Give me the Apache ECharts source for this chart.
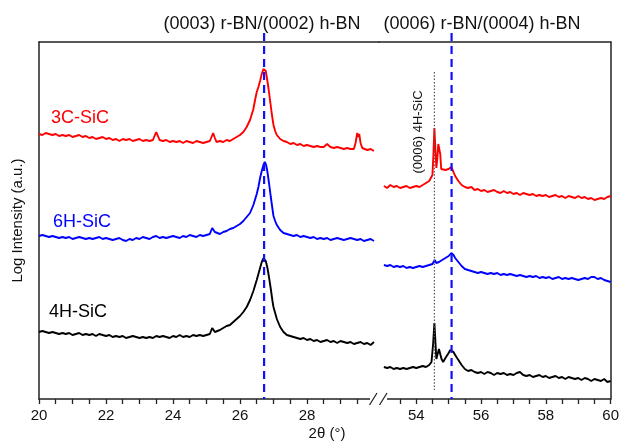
<!DOCTYPE html>
<html>
<head>
<meta charset="utf-8">
<script src="https://cdn.jsdelivr.net/npm/echarts@6/dist/echarts.min.js"></script>
<style>html,body{margin:0;padding:0;background:#fff}#c{width:622px;height:443px}</style>
</head>
<body>
<div id="c"></div>
<script>
// ---- data (2theta in degrees, log intensity in arbitrary units) ----
var leftTickValues = [20,20.5,21,21.5,22,22.5,23,23.5,24,24.5,25,25.5,26,26.5,27,27.5,28,28.5,29,29.5];
var leftLabelValues = [20,22,24,26,28];
var rightTickValues = [53.5,54,54.5,55,55.5,56,56.5,57,57.5,58,58.5,59,59.5,60];
var rightLabelValues = [54,56,58,60];
var seriesNames = ['3C-SiC','6H-SiC','4H-SiC'];
var hBN0002 = 26.72;   // (0003) r-BN/(0002) h-BN
var hBN0004 = 55.09;   // (0006) r-BN/(0004) h-BN
var sic0006 = 54.56;   // (0006) 4H-SiC

var red3C_left = [[20.0,265],[20.1,264],[20.2,266],[20.3,265],[20.4,264],[20.5,265],[20.6,263],[20.7,264],[20.8,263],[20.9,264],[21.0,262],[21.1,263],[21.2,264],[21.3,262],[21.4,263],[21.5,261],[21.6,262],[21.7,260],[21.8,261],[21.9,262],[22.0,260],[22.1,261],[22.2,259],[22.3,260],[22.4,258],[22.5,260],[22.6,259],[22.7,260],[22.8,258],[22.9,259],[23.0,260],[23.1,258],[23.2,259],[23.3,258],[23.4,259],[23.45,263],[23.5,267],[23.55,263],[23.6,259],[23.7,258],[23.8,259],[23.9,257],[24.0,258],[24.1,257],[24.2,258],[24.3,256],[24.4,258],[24.5,257],[24.6,256],[24.7,258],[24.8,257],[24.9,256],[25.0,257],[25.1,258],[25.15,262],[25.2,266],[25.25,261],[25.3,257],[25.4,258],[25.5,257],[25.6,259],[25.7,258],[25.8,260],[25.9,262],[26.0,264],[26.1,267],[26.2,272],[26.3,279],[26.4,290],[26.45,299],[26.5,307],[26.55,312],[26.6,318],[26.65,325],[26.7,330],[26.73,332],[26.77,328],[26.8,322],[26.85,311],[26.9,298],[26.95,285],[27.0,274],[27.05,268],[27.1,264],[27.2,260],[27.3,258],[27.4,257],[27.5,255],[27.6,256],[27.7,254],[27.8,255],[27.9,253],[28.0,254],[28.1,253],[28.2,252],[28.3,253],[28.4,252],[28.5,252],[28.6,255],[28.7,252],[28.8,251],[28.9,252],[29.0,251],[29.1,250],[29.2,251],[29.3,250],[29.4,250],[29.45,256],[29.5,266],[29.53,262],[29.56,265],[29.6,256],[29.65,251],[29.7,250],[29.8,249],[29.9,250],[30.0,248]];
var blue6H_left = [[20.0,163],[20.1,164],[20.2,163],[20.3,162],[20.4,163],[20.5,162],[20.6,161],[20.7,162],[20.8,161],[20.9,162],[21.0,160],[21.1,161],[21.2,162],[21.3,161],[21.4,160],[21.5,161],[21.6,160],[21.7,161],[21.8,162],[21.9,160],[22.0,161],[22.1,160],[22.2,159],[22.3,160],[22.4,161],[22.5,159],[22.6,158],[22.7,160],[22.8,159],[22.9,161],[23.0,160],[23.1,162],[23.2,161],[23.3,160],[23.4,162],[23.5,163],[23.6,161],[23.7,162],[23.8,161],[23.9,162],[24.0,163],[24.1,162],[24.2,161],[24.3,163],[24.4,162],[24.5,164],[24.6,163],[24.7,162],[24.8,164],[24.9,163],[25.0,164],[25.1,165],[25.17,171],[25.25,167],[25.3,166],[25.4,165],[25.5,167],[25.6,168],[25.7,170],[25.8,171],[25.9,173],[26.0,175],[26.1,178],[26.2,182],[26.3,186],[26.4,194],[26.5,205],[26.55,212],[26.6,221],[26.65,228],[26.7,234],[26.74,237],[26.78,234],[26.82,227],[26.87,215],[26.92,202],[26.97,190],[27.0,183],[27.05,178],[27.1,174],[27.2,169],[27.3,166],[27.4,165],[27.5,164],[27.6,163],[27.7,164],[27.8,162],[27.9,163],[28.0,162],[28.1,161],[28.2,162],[28.3,160],[28.4,161],[28.5,160],[28.6,161],[28.7,159],[28.8,160],[28.9,161],[29.0,160],[29.1,159],[29.2,160],[29.3,161],[29.4,160],[29.5,159],[29.6,160],[29.7,158],[29.8,159],[29.9,160],[30.0,158]];
var black4H_left = [[20.0,67],[20.1,68],[20.2,67],[20.3,66],[20.4,67],[20.5,66],[20.6,65],[20.7,66],[20.8,65],[20.9,66],[21.0,64],[21.1,65],[21.2,66],[21.3,64],[21.4,65],[21.5,64],[21.6,65],[21.7,63],[21.8,65],[21.9,64],[22.0,63],[22.1,64],[22.2,62],[22.3,63],[22.4,62],[22.5,63],[22.6,61],[22.7,62],[22.8,63],[22.9,62],[23.0,61],[23.1,62],[23.2,61],[23.3,62],[23.4,61],[23.5,63],[23.6,62],[23.7,63],[23.8,62],[23.9,61],[24.0,63],[24.1,62],[24.2,64],[24.3,62],[24.4,63],[24.5,62],[24.6,64],[24.7,63],[24.8,64],[24.9,63],[25.0,64],[25.1,65],[25.17,71],[25.25,67],[25.3,68],[25.4,69],[25.5,71],[25.6,73],[25.7,74],[25.8,77],[25.9,80],[26.0,83],[26.1,87],[26.2,92],[26.3,99],[26.4,108],[26.5,119],[26.55,125],[26.6,131],[26.65,137],[26.7,141],[26.73,142],[26.77,138],[26.82,131],[26.87,121],[26.92,110],[26.97,98],[27.0,92],[27.05,86],[27.1,80],[27.2,72],[27.3,67],[27.4,64],[27.5,63],[27.6,62],[27.7,61],[27.8,60],[27.9,61],[28.0,59],[28.1,60],[28.2,58],[28.3,59],[28.4,57],[28.5,58],[28.6,59],[28.7,57],[28.8,58],[28.9,56],[29.0,58],[29.1,57],[29.2,56],[29.3,57],[29.4,55],[29.5,56],[29.6,57],[29.7,55],[29.8,56],[29.9,54],[30.0,57]];

var red3C_right = [[53.0,213],[53.1,211],[53.2,214],[53.3,212],[53.4,213],[53.5,211],[53.6,212],[53.7,213],[53.8,211],[53.9,212],[54.0,213],[54.1,212],[54.2,214],[54.3,216],[54.4,218],[54.45,221],[54.5,224],[54.53,245],[54.56,271],[54.59,250],[54.62,231],[54.65,240],[54.68,255],[54.71,257],[54.74,245],[54.77,230],[54.82,228],[54.9,229],[55.0,230],[55.08,232],[55.15,227],[55.2,223],[55.3,218],[55.4,214],[55.5,212],[55.6,211],[55.7,212],[55.8,209],[55.9,210],[56.0,208],[56.1,209],[56.2,207],[56.3,208],[56.4,209],[56.5,207],[56.6,206],[56.7,208],[56.8,206],[56.9,207],[57.0,205],[57.1,206],[57.2,204],[57.3,206],[57.4,205],[57.5,204],[57.6,205],[57.7,203],[57.8,204],[57.9,203],[58.0,204],[58.1,202],[58.2,203],[58.3,204],[58.4,202],[58.5,203],[58.6,201],[58.7,203],[58.8,202],[58.9,201],[59.0,203],[59.1,201],[59.2,202],[59.3,200],[59.4,201],[59.5,199],[59.6,200],[59.7,201],[59.8,200],[59.9,202],[60.0,203]];
var blue6H_right = [[53.0,134],[53.1,133],[53.2,134],[53.3,132],[53.4,133],[53.5,132],[53.6,133],[53.7,131],[53.8,132],[53.9,131],[54.0,132],[54.1,133],[54.2,132],[54.3,133],[54.4,134],[54.5,135],[54.57,139],[54.62,136],[54.7,137],[54.8,139],[54.9,141],[55.0,143],[55.08,146],[55.15,144],[55.2,141],[55.3,137],[55.4,133],[55.5,130],[55.6,129],[55.7,128],[55.8,127],[55.9,126],[56.0,127],[56.1,126],[56.2,125],[56.3,126],[56.4,125],[56.5,126],[56.6,124],[56.7,125],[56.8,124],[56.9,125],[57.0,124],[57.1,123],[57.2,124],[57.3,123],[57.4,122],[57.5,123],[57.6,122],[57.7,123],[57.8,121],[57.9,122],[58.0,121],[58.1,122],[58.2,120],[58.3,121],[58.4,122],[58.5,120],[58.6,121],[58.7,120],[58.8,121],[58.9,120],[59.0,119],[59.1,120],[59.2,121],[59.3,120],[59.4,122],[59.5,122],[59.6,120],[59.7,121],[59.8,119],[59.9,118],[60.0,117]];
var black4H_right = [[53.0,32],[53.1,31],[53.2,32],[53.3,30],[53.4,31],[53.5,30],[53.6,31],[53.7,30],[53.8,31],[53.9,32],[54.0,31],[54.1,32],[54.2,33],[54.3,32],[54.4,34],[54.47,37],[54.52,55],[54.56,76],[54.59,58],[54.62,40],[54.66,45],[54.7,50],[54.74,48],[54.78,40],[54.83,37],[54.9,41],[54.98,45],[55.05,49],[55.09,50],[55.15,47],[55.2,44],[55.3,39],[55.4,34],[55.5,30],[55.6,28],[55.7,29],[55.8,27],[55.9,26],[56.0,27],[56.1,25],[56.2,27],[56.3,26],[56.4,24],[56.5,26],[56.6,25],[56.7,26],[56.8,24],[56.9,25],[57.0,24],[57.1,26],[57.2,27],[57.3,24],[57.4,23],[57.5,24],[57.6,22],[57.7,23],[57.8,24],[57.9,22],[58.0,23],[58.1,21],[58.2,22],[58.3,23],[58.4,21],[58.5,22],[58.6,20],[58.7,22],[58.8,21],[58.9,20],[59.0,21],[59.1,19],[59.2,21],[59.3,20],[59.4,18],[59.5,20],[59.6,19],[59.7,18],[59.8,20],[59.9,17],[60.0,18]];

// ---- chart ----
var FONT = 'Liberation Sans, Arial, sans-serif';
var AX = '#222';
var chart = echarts.init(document.getElementById('c'), null, {renderer:'canvas'});
function bottomAxis(grid, min, max, ticks, labels) {
  return {type:'value', gridIndex:grid, min:min, max:max, position:'bottom',
    axisLine:{show:true, onZero:false, lineStyle:{color:AX, width:1.5}},
    axisTick:{show:true, inside:false, length:5, lineStyle:{color:AX, width:1.3}, customValues:ticks},
    axisLabel:{show:true, margin:9, fontSize:15, color:'#111', fontFamily:FONT, customValues:labels},
    splitLine:{show:false}};
}
function topAxis(grid, min, max) {
  return {type:'value', gridIndex:grid, min:min, max:max, position:'top',
    axisLine:{show:true, onZero:false, lineStyle:{color:AX, width:1.5}},
    axisTick:{show:false}, axisLabel:{show:false}, splitLine:{show:false}};
}
function line(name, color, data, xi, yi) {
  return {type:'line', name:name, xAxisIndex:xi, yAxisIndex:yi, data:data,
    symbol:'none', showSymbol:false, lineStyle:{color:color, width:1.9}, z:3, silent:true};
}
var option = {
  animation:false,
  backgroundColor:'#fff',
  grid:[{left:39, right:243, top:42, bottom:44},
        {left:379, right:7, top:42, bottom:44}],
  xAxis:[bottomAxis(0, 20, 30.15, leftTickValues, leftLabelValues),
         bottomAxis(1, 52.85, 60, rightTickValues, rightLabelValues),
         topAxis(0, 20, 30.15), topAxis(1, 52.85, 60)],
  yAxis:[{type:'value', gridIndex:0, min:0, max:357, position:'left',
          name:'Log Intensity (a.u.)', nameLocation:'middle', nameGap:14,
          nameTextStyle:{fontSize:15, color:'#111', fontFamily:FONT},
          axisLine:{show:true, lineStyle:{color:AX, width:1.5}}, axisTick:{show:false}, axisLabel:{show:false}, splitLine:{show:false}},
         {type:'value', gridIndex:1, min:0, max:357, position:'right',
          axisLine:{show:true, lineStyle:{color:AX, width:1.5}}, axisTick:{show:false}, axisLabel:{show:false}, splitLine:{show:false}}],
  series:[line(seriesNames[0], '#ff0000', red3C_left, 0, 0),
          line(seriesNames[1], '#0000ff', blue6H_left, 0, 0),
          line(seriesNames[2], '#000000', black4H_left, 0, 0),
          line(seriesNames[0], '#ff0000', red3C_right, 1, 1),
          line(seriesNames[1], '#0000ff', blue6H_right, 1, 1),
          line(seriesNames[2], '#000000', black4H_right, 1, 1)]
};
chart.setOption(option);

var xA = chart.convertToPixel({xAxisIndex:0}, hBN0002);
var xB = chart.convertToPixel({xAxisIndex:1}, hBN0004);
var xS = chart.convertToPixel({xAxisIndex:1}, sic0006);
var yTop = chart.convertToPixel({yAxisIndex:0}, 357);
var yBot = chart.convertToPixel({yAxisIndex:0}, 0);
function txt(x, y, s, color, size, align, rot) {
  return {type:'text', x:x, y:y, rotation:rot||0, z:10,
    style:{text:s, fill:color, fontSize:size, fontFamily:FONT, align:align||'left', verticalAlign:'middle'}};
}
chart.setOption({graphic:[
  {type:'line', shape:{x1:xA, y1:yTop-9, x2:xA, y2:yBot}, z:5, style:{stroke:'#1010ff', lineWidth:2.2, lineDash:[8,5]}},
  {type:'line', shape:{x1:xB, y1:yTop-9, x2:xB, y2:yBot}, z:5, style:{stroke:'#1010ff', lineWidth:2.2, lineDash:[8,5]}},
  {type:'line', shape:{x1:xS, y1:72, x2:xS, y2:yBot-9}, z:5, style:{stroke:'#555', lineWidth:1.2, lineDash:[1.5,1.8]}},
  {type:'rect', shape:{x:370, y:yBot-3, width:17, height:12}, z:20, style:{fill:'#fff'}},
  {type:'line', shape:{x1:369.5, y1:yBot+6, x2:377, y2:yBot-6}, z:21, style:{stroke:AX, lineWidth:1.3}},
  {type:'line', shape:{x1:379.5, y1:yBot+6, x2:387, y2:yBot-6}, z:21, style:{stroke:AX, lineWidth:1.3}},
  txt(262, 24, '(0003) r-BN/(0002) h-BN', '#111', 18, 'center'),
  txt(482, 24, '(0006) r-BN/(0004) h-BN', '#111', 18, 'center'),
  txt(51, 118, '3C-SiC', '#ff0000', 18, 'left'),
  txt(53, 222, '6H-SiC', '#0000ff', 18, 'left'),
  txt(49, 312, '4H-SiC', '#000000', 18, 'left'),
  txt(418, 132, '(0006) 4H-SiC', '#111', 13, 'center', Math.PI/2),
  txt(327, 434, '2θ (°)', '#111', 15, 'center')
]});
</script>
</body>
</html>
